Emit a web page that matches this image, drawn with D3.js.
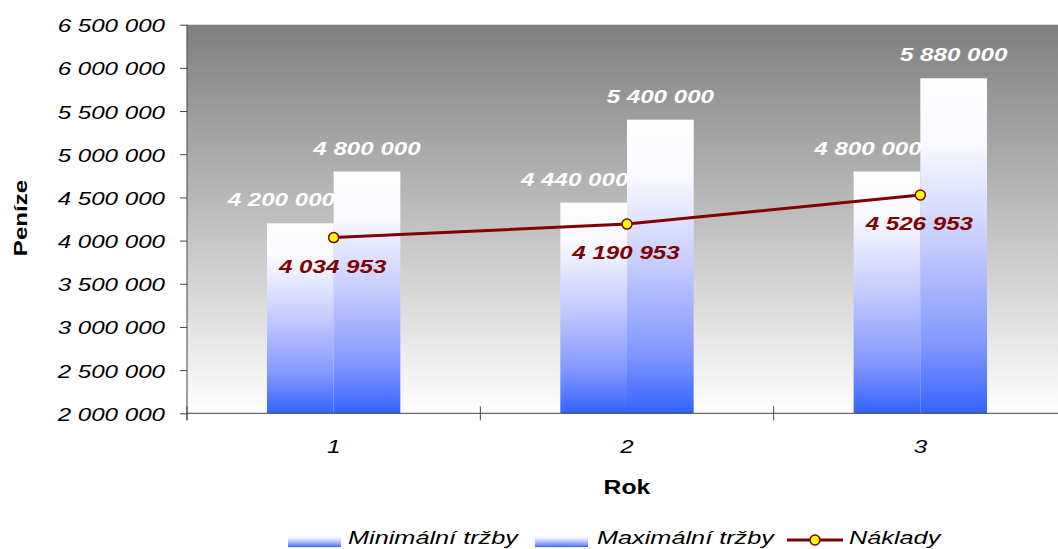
<!DOCTYPE html>
<html lang="cs">
<head>
	<meta charset="UTF-8">
	<title>Tržby a náklady</title>
	<script src="https://cdn.jsdelivr.net/npm/d3@7/dist/d3.min.js"></script>
	<style>
		body { margin: 0; background: #fff; }
		text { font-family: "Liberation Sans", Arial, sans-serif; }
		.axis path, .axis line { stroke: #444; }
	</style>
</head>
<body>
<script type="text/javascript">

	var years = ['1', '2', '3'];
	var minSales = [4200000, 4440000, 4800000];
	var maxSales = [4800000, 5400000, 5880000];
	var costs = [4034953, 4190953, 4526953];
	var yTicks = [2000000, 2500000, 3000000, 3500000, 4000000, 4500000, 5000000, 5500000, 6000000, 6500000];
	var seriesNames = ['Minimální tržby', 'Maximální tržby', 'Náklady'];

	var width = 1058, height = 549;
	var plot = {left: 187, top: 24.7, right: 1067, bottom: 413.3};

	var fmt = d3.formatLocale({decimal: ',', thousands: ' ', grouping: [3], currency: ['', '']}).format(',d');

	// Excel draws text noticeably wider than the font's metrics
	function widen(sel, k) {
		sel.each(function () {
			var w = this.getComputedTextLength();
			this.setAttribute('textLength', w * k);
			this.setAttribute('lengthAdjust', 'spacingAndGlyphs');
		});
	}

	var svg = d3.select('body').append('svg')
		.attr('width', width)
		.attr('height', height);

	var defs = svg.append('defs');

	var bg = defs.append('linearGradient').attr('id', 'bg')
		.attr('x1', 0).attr('y1', 0).attr('x2', 0).attr('y2', 1);
	bg.append('stop').attr('offset', 0).attr('stop-color', '#7f7f7f');
	bg.append('stop').attr('offset', 1).attr('stop-color', '#ffffff');

	var barGrad = defs.append('linearGradient').attr('id', 'bar')
		.attr('x1', 0).attr('y1', 0).attr('x2', 0).attr('y2', 1);
	[[0, '#ffffff'], [0.2, '#f8f8ff'], [0.5, '#c4cbff'], [0.8, '#8196ff'], [1, '#3363ff']].forEach(function (s) {
		barGrad.append('stop').attr('offset', s[0]).attr('stop-color', s[1]);
	});

	var x = d3.scaleBand()
		.domain(years)
		.range([plot.left, plot.right])
		.padding(0);

	var inner = d3.scaleBand()
		.domain(['min', 'max'])
		.range([x.bandwidth() * 0.2727, x.bandwidth() * 0.7273])
		.padding(0);

	var y = d3.scaleLinear()
		.domain([2000000, 6500000])
		.range([plot.bottom, plot.top]);

	// plot background
	svg.append('rect')
		.attr('x', plot.left)
		.attr('y', y(6500000))
		.attr('width', width - plot.left)
		.attr('height', y(2000000) - y(6500000))
		.attr('fill', 'url(#bg)');

	// bars
	var groups = svg.append('g').selectAll('g')
		.data(years)
		.enter().append('g')
		.attr('transform', function (d) { return 'translate(' + x(d) + ',0)'; });

	groups.append('rect')
		.attr('x', inner('min'))
		.attr('width', inner.bandwidth())
		.attr('y', function (d, i) { return y(minSales[i]); })
		.attr('height', function (d, i) { return y(2000000) - y(minSales[i]); })
		.attr('fill', 'url(#bar)');

	groups.append('rect')
		.attr('x', inner('max'))
		.attr('width', inner.bandwidth())
		.attr('y', function (d, i) { return y(maxSales[i]); })
		.attr('height', function (d, i) { return y(2000000) - y(maxSales[i]); })
		.attr('fill', 'url(#bar)');

	// y axis
	var axisY = svg.append('g')
		.attr('class', 'axis')
		.attr('transform', 'translate(' + plot.left + ',0)')
		.call(d3.axisLeft(y).tickValues(yTicks).tickSize(7).tickSizeOuter(0).tickPadding(15).tickFormat(fmt));
	axisY.select('.domain').attr('d', 'M0,' + y(6500000) + 'V' + (y(2000000) + 7));
	axisY.selectAll('text')
		.attr('font-size', 19)
		.attr('font-style', 'italic')
		.attr('fill', '#000')
		.attr('font-family', '"Liberation Sans", Arial, sans-serif')
		.attr('dy', 7)
		.call(widen, 1.27);

	// x axis
	var axisX = svg.append('g')
		.attr('class', 'axis')
		.attr('transform', 'translate(0,' + y(2000000) + ')')
		.call(d3.axisBottom(x).tickSize(0).tickPadding(26));
	axisX.select('.domain').attr('d', 'M' + plot.left + ',0H' + width);
	axisX.selectAll('text')
		.attr('font-size', 19)
		.attr('font-style', 'italic')
		.attr('fill', '#000')
		.attr('font-family', '"Liberation Sans", Arial, sans-serif')
		.call(widen, 1.27);
	axisX.selectAll('.sep')
		.data(years)
		.enter().append('line')
		.attr('class', 'sep')
		.attr('x1', function (d) { return x(d); })
		.attr('x2', function (d) { return x(d); })
		.attr('y1', -7)
		.attr('y2', 7)
		.attr('stroke', '#444');

	// costs line
	var line = d3.line()
		.x(function (d, i) { return x(years[i]) + x.bandwidth() / 2; })
		.y(function (d) { return y(d); });

	svg.append('path')
		.datum(costs)
		.attr('d', line)
		.attr('fill', 'none')
		.attr('stroke', '#800000')
		.attr('stroke-width', 3);

	svg.append('g').selectAll('circle')
		.data(costs)
		.enter().append('circle')
		.attr('cx', function (d, i) { return x(years[i]) + x.bandwidth() / 2; })
		.attr('cy', function (d) { return y(d); })
		.attr('r', 5)
		.attr('fill', '#ffff00')
		.attr('stroke', '#800000')
		.attr('stroke-width', 1.5);

	// value labels
	var labels = svg.append('g')
		.attr('font-size', 19)
		.attr('font-style', 'italic')
		.attr('font-weight', 'bold')
		.attr('text-anchor', 'middle');

	labels.selectAll('.lmin')
		.data(minSales)
		.enter().append('text')
		.attr('class', 'lmin')
		.attr('x', function (d, i) { return x(years[i]) + inner('min') + inner.bandwidth() / 2 - 19; })
		.attr('y', function (d) { return y(d) - 17; })
		.attr('fill', '#fff')
		.text(fmt)
		.call(widen, 1.27);

	labels.selectAll('.lmax')
		.data(maxSales)
		.enter().append('text')
		.attr('class', 'lmax')
		.attr('x', function (d, i) { return x(years[i]) + inner('max') + inner.bandwidth() / 2; })
		.attr('y', function (d) { return y(d) - 17; })
		.attr('fill', '#fff')
		.text(fmt)
		.call(widen, 1.27);

	labels.selectAll('.lcost')
		.data(costs)
		.enter().append('text')
		.attr('class', 'lcost')
		.attr('x', function (d, i) { return x(years[i]) + x.bandwidth() / 2 - 1; })
		.attr('y', function (d) { return y(d) + 35; })
		.attr('fill', '#800000')
		.text(fmt)
		.call(widen, 1.27);

	// axis titles
	svg.append('text')
		.attr('x', 627)
		.attr('y', 494)
		.attr('text-anchor', 'middle')
		.attr('font-size', 19.5)
		.attr('font-weight', 'bold')
		.text('Rok')
		.call(widen, 1.27);

	svg.append('text')
		.attr('transform', 'translate(27,218) rotate(-90)')
		.attr('text-anchor', 'middle')
		.attr('font-size', 19)
		.attr('font-weight', 'bold')
		.text('Peníze')
		.call(widen, 1.27);

	// legend
	var legend = svg.append('g');
	var legendX = [288, 535, 787];

	[0, 1].forEach(function (i) {
		legend.append('rect')
			.attr('x', legendX[i])
			.attr('y', 535)
			.attr('width', 53)
			.attr('height', 12)
			.attr('fill', 'url(#bar)');
	});

	legend.append('line')
		.attr('x1', legendX[2]).attr('x2', legendX[2] + 56)
		.attr('y1', 540).attr('y2', 540)
		.attr('stroke', '#800000')
		.attr('stroke-width', 3);
	legend.append('circle')
		.attr('cx', legendX[2] + 28)
		.attr('cy', 540)
		.attr('r', 5)
		.attr('fill', '#ffff00')
		.attr('stroke', '#800000')
		.attr('stroke-width', 1.5);

	var legendTextX = [348, 597, 849];
	legend.selectAll('text')
		.data(seriesNames)
		.enter().append('text')
		.attr('x', function (d, i) { return legendTextX[i]; })
		.attr('y', 544)
		.attr('font-size', 19)
		.attr('font-style', 'italic')
		.text(function (d) { return d; })
		.call(widen, 1.33);

</script>
</body>
</html>
